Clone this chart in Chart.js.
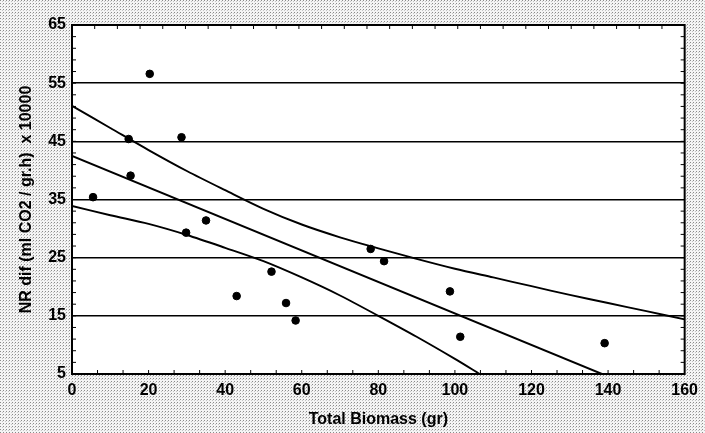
<!DOCTYPE html>
<html>
<head>
<meta charset="utf-8">
<script src="https://cdn.jsdelivr.net/npm/chart.js@4/dist/chart.umd.min.js"></script>
<style>
    html, body { margin: 0; padding: 0; background: #fff; }
    #wrap { width: 705px; height: 433px; }
</style>
</head>
<body>
<div id="wrap"><canvas id="biomassChart"></canvas></div>
<script>
// observed points: total biomass (gr) vs NR dif
const biomass = [5.5, 14.8, 15.3, 20.3, 28.6, 29.8, 35, 43, 52.1, 55.9, 58.4, 78, 81.5, 98.7, 101.4, 139.1];
const nrDif = [35.4, 45.4, 39.1, 56.6, 45.7, 29.3, 31.4, 18.4, 22.6, 17.2, 14.2, 26.5, 24.4, 19.2, 11.4, 10.3];

// regression line, read at its ends
const fitX = [0, 138.4];
const fitY = [42.5, 5];

// upper and lower bands
const upperX = [0, 10, 20, 30, 40, 50, 60, 70, 80, 90, 100, 110, 120, 130, 140, 150, 160];
const upperY = [51.1, 47.3, 43.5, 39.9, 36.6, 33.4, 30.7, 28.5, 26.6, 24.8, 23.1, 21.6, 20.1, 18.6, 17.2, 15.8, 14.4];
const lowerX = [0, 10, 20, 30, 40, 50, 60, 70, 80, 90, 100, 106.5];
const lowerY = [33.9, 32.3, 30.8, 28.9, 26.7, 24.4, 21.6, 18.5, 15, 11.4, 7.6, 5];

const xTicks = [0, 20, 40, 60, 80, 100, 120, 140, 160];
const yTicks = [5, 15, 25, 35, 45, 55, 65];

const toPoints = (xs, ys) => xs.map((x, i) => ({ x: x, y: ys[i] }));

function makeDots() {
    const c = document.createElement("canvas");
    c.width = 3;
    c.height = 3;
    const g = c.getContext("2d");
    g.fillStyle = "#f4f4f4";
    g.fillRect(0, 0, 3, 3);
    g.fillStyle = "#8a8a8a";
    g.fillRect(0, 0, 1, 1);
    g.fillStyle = "#c4c4c4";
    g.fillRect(2, 1, 1, 1);
    return c;
}

const paperPlugin = {
    id: "paper",
    beforeDraw(chart) {
        const { ctx, chartArea: a } = chart;
        ctx.save();
        ctx.fillStyle = ctx.createPattern(makeDots(), "repeat");
        ctx.fillRect(0, 0, chart.width, chart.height);
        ctx.fillStyle = "#fff";
        ctx.fillRect(a.left, a.top, a.right - a.left, a.bottom - a.top);
        ctx.restore();
    },
    afterDraw(chart) {
        const { ctx, chartArea: a } = chart;
        const xs = chart.scales.x;
        const ys = chart.scales.y;
        ctx.save();
        ctx.strokeStyle = "#000";
        ctx.lineWidth = 1;
        ctx.beginPath();
        // small inward ticks
        for (let v = 5; v <= 65; v += 2) {
            const py = ys.getPixelForValue(v);
            ctx.moveTo(a.left, py);
            ctx.lineTo(a.left + 4, py);
            ctx.moveTo(a.right, py);
            ctx.lineTo(a.right - 4, py);
        }
        for (let k = 1; k < 27; k++) {
            const px = xs.getPixelForValue((160 / 27) * k);
            ctx.moveTo(px, a.top);
            ctx.lineTo(px, a.top + 4);
        }
        for (let k = 1; k < 24; k++) {
            const px = xs.getPixelForValue((20 / 3) * k);
            ctx.moveTo(px, a.bottom);
            ctx.lineTo(px, a.bottom - 4);
        }
        ctx.stroke();
        ctx.lineWidth = 2;
        ctx.strokeRect(a.left, a.top, a.right - a.left, a.bottom - a.top);
        ctx.restore();
    },
};

const lineStyle = {
    type: "scatter",
    showLine: true,
    borderColor: "#000",
    borderWidth: 1.9,
    pointRadius: 0,
    fill: false,
    tension: 0,
};

const boldFont = { family: "Liberation Sans", size: 16, weight: "bold" };

new Chart(document.getElementById("biomassChart"), {
    type: "scatter",

    data: {
        datasets: [
            { ...lineStyle, data: toPoints(upperX, upperY), tension: 0.3 },
            { ...lineStyle, data: toPoints(fitX, fitY) },
            { ...lineStyle, data: toPoints(lowerX, lowerY), tension: 0.3 },
            {
                data: toPoints(biomass, nrDif),
                backgroundColor: "#000",
                borderColor: "#000",
                pointRadius: 3.8,
                pointHoverRadius: 3.8,
            },
        ],
    },

    options: {
        responsive: true,
        maintainAspectRatio: false,
        animation: false,
        events: [],

        layout: {
            padding: { top: 25, right: 17, left: 0, bottom: 0 },
        },

        plugins: {
            legend: { display: false },
            tooltip: { enabled: false },
        },

        scales: {
            x: {
                type: "linear",
                min: 0,
                max: 160,
                afterBuildTicks: (s) => { s.ticks = xTicks.map((v) => ({ value: v })); },
                afterFit: (s) => { s.height = 59; },
                grid: { display: false, drawTicks: false },
                border: { display: false },
                ticks: { color: "#000", padding: 7, font: boldFont },
                title: {
                    display: true,
                    text: "Total Biomass (gr)",
                    color: "#000",
                    padding: { top: 0, bottom: 4 },
                    font: boldFont,
                },
            },

            y: {
                type: "linear",
                min: 5,
                max: 65,
                afterBuildTicks: (s) => { s.ticks = yTicks.map((v) => ({ value: v })); },
                afterFit: (s) => { s.width = 72; },
                grid: { color: "#000", lineWidth: 1.6, drawTicks: false },
                border: { display: false },
                ticks: { color: "#000", padding: 6, font: boldFont },
                title: {
                    display: true,
                    text: "NR dif (ml CO2 / gr.h)  x 10000",
                    color: "#000",
                    padding: { top: 17, bottom: 0 },
                    font: boldFont,
                },
            },
        },
    },

    plugins: [paperPlugin],
});
</script>
</body>
</html>
